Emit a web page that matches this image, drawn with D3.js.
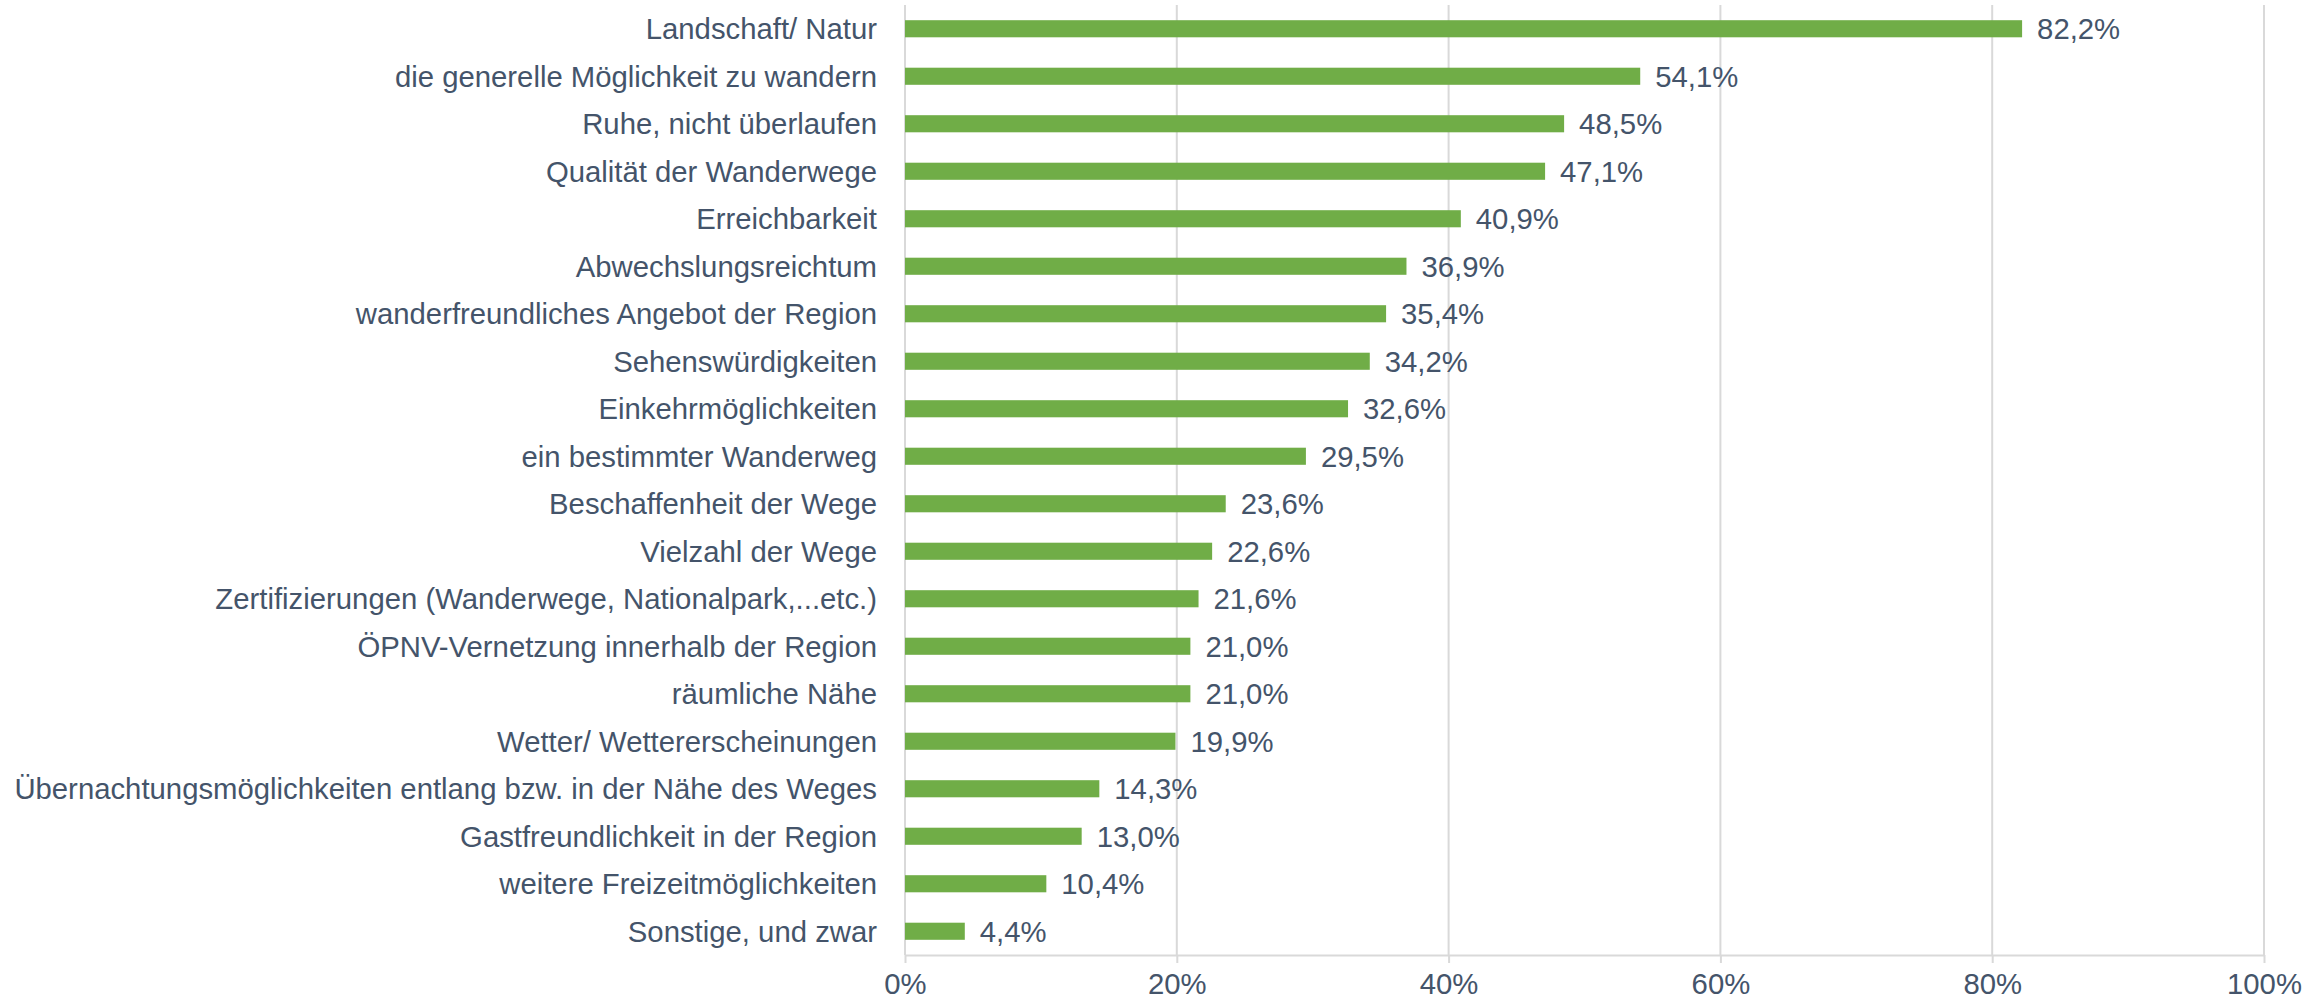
<!DOCTYPE html>
<html>
<head>
<meta charset="utf-8">
<script src="https://cdn.jsdelivr.net/npm/d3@7"></script>
<style>
  html, body { margin: 0; padding: 0; background: #fff; }
  svg { display: block; font-family: "Liberation Sans", Arial, sans-serif; }
</style>
</head>
<body>
<div id="chart"></div>
<script>
// categories (top to bottom) and their shares in percent
const categories = [
  "Landschaft/ Natur",
  "die generelle Möglichkeit zu wandern",
  "Ruhe, nicht überlaufen",
  "Qualität der Wanderwege",
  "Erreichbarkeit",
  "Abwechslungsreichtum",
  "wanderfreundliches Angebot der Region",
  "Sehenswürdigkeiten",
  "Einkehrmöglichkeiten",
  "ein bestimmter Wanderweg",
  "Beschaffenheit der Wege",
  "Vielzahl der Wege",
  "Zertifizierungen (Wanderwege, Nationalpark,...etc.)",
  "ÖPNV-Vernetzung innerhalb der Region",
  "räumliche Nähe",
  "Wetter/ Wettererscheinungen",
  "Übernachtungsmöglichkeiten entlang bzw. in der Nähe des Weges",
  "Gastfreundlichkeit in der Region",
  "weitere Freizeitmöglichkeiten",
  "Sonstige, und zwar"
];
const values = [82.2, 54.1, 48.5, 47.1, 40.9, 36.9, 35.4, 34.2, 32.6, 29.5,
                23.6, 22.6, 21.6, 21.0, 21.0, 19.9, 14.3, 13.0, 10.4, 4.4];
const xTicks = [0, 20, 40, 60, 80, 100];

const data = categories.map((c, i) => ({ category: c, value: values[i] }));

const width = 2320;
const height = 1001;
const marginTop = 5;
const marginRight = 56;
const marginBottom = 46;
const marginLeft = 905;

const textColor = "#44546A";
const gridColor = "#D9D9D9";
const fontSize = 29.3;

const fmt = v => v.toFixed(1).replace(".", ",") + "%";

const x = d3.scaleLinear()
  .domain([0, 100])
  .range([marginLeft, width - marginRight]);

const y = d3.scaleBand()
  .domain(categories)
  .range([marginTop, height - marginBottom])
  .paddingInner(0.64)
  .paddingOuter(0.32);

const svg = d3.select("#chart")
  .append("svg")
  .attr("width", width)
  .attr("height", height)
  .attr("viewBox", `0 0 ${width} ${height}`);

// vertical gridlines
svg.append("g")
  .attr("stroke", gridColor)
  .attr("stroke-width", 2)
  .selectAll("line")
  .data(xTicks)
  .join("line")
  .attr("x1", d => x(d))
  .attr("x2", d => x(d))
  .attr("y1", marginTop)
  .attr("y2", height - marginBottom);

// bottom axis
svg.append("g")
  .attr("transform", `translate(0, ${height - marginBottom})`)
  .call(d3.axisBottom(x)
    .tickValues(xTicks)
    .tickFormat(d => d + "%")
    .tickSize(8)
    .tickSizeOuter(0)
    .tickPadding(10))
  .call(g => g.select(".domain").attr("stroke", gridColor).attr("stroke-width", 2))
  .call(g => g.selectAll(".tick line").attr("stroke", gridColor).attr("stroke-width", 2))
  .call(g => g.selectAll(".tick text")
    .attr("fill", textColor)
    .attr("font-size", fontSize)
    .attr("font-family", "Liberation Sans, Arial, sans-serif"));

// bars
svg.append("g")
  .attr("fill", "#70AD47")
  .selectAll("rect")
  .data(data)
  .join("rect")
  .attr("x", x(0))
  .attr("y", d => y(d.category))
  .attr("width", d => x(d.value) - x(0))
  .attr("height", y.bandwidth());

// category labels
svg.append("g")
  .attr("fill", textColor)
  .attr("font-size", fontSize)
  .attr("text-anchor", "end")
  .selectAll("text")
  .data(data)
  .join("text")
  .attr("x", marginLeft - 28)
  .attr("y", d => y(d.category) + y.bandwidth() / 2)
  .attr("dy", "0.35em")
  .text(d => d.category);

// value labels
svg.append("g")
  .attr("fill", textColor)
  .attr("font-size", fontSize)
  .selectAll("text")
  .data(data)
  .join("text")
  .attr("x", d => x(d.value) + 15)
  .attr("y", d => y(d.category) + y.bandwidth() / 2)
  .attr("dy", "0.35em")
  .text(d => fmt(d.value));
</script>
</body>
</html>
